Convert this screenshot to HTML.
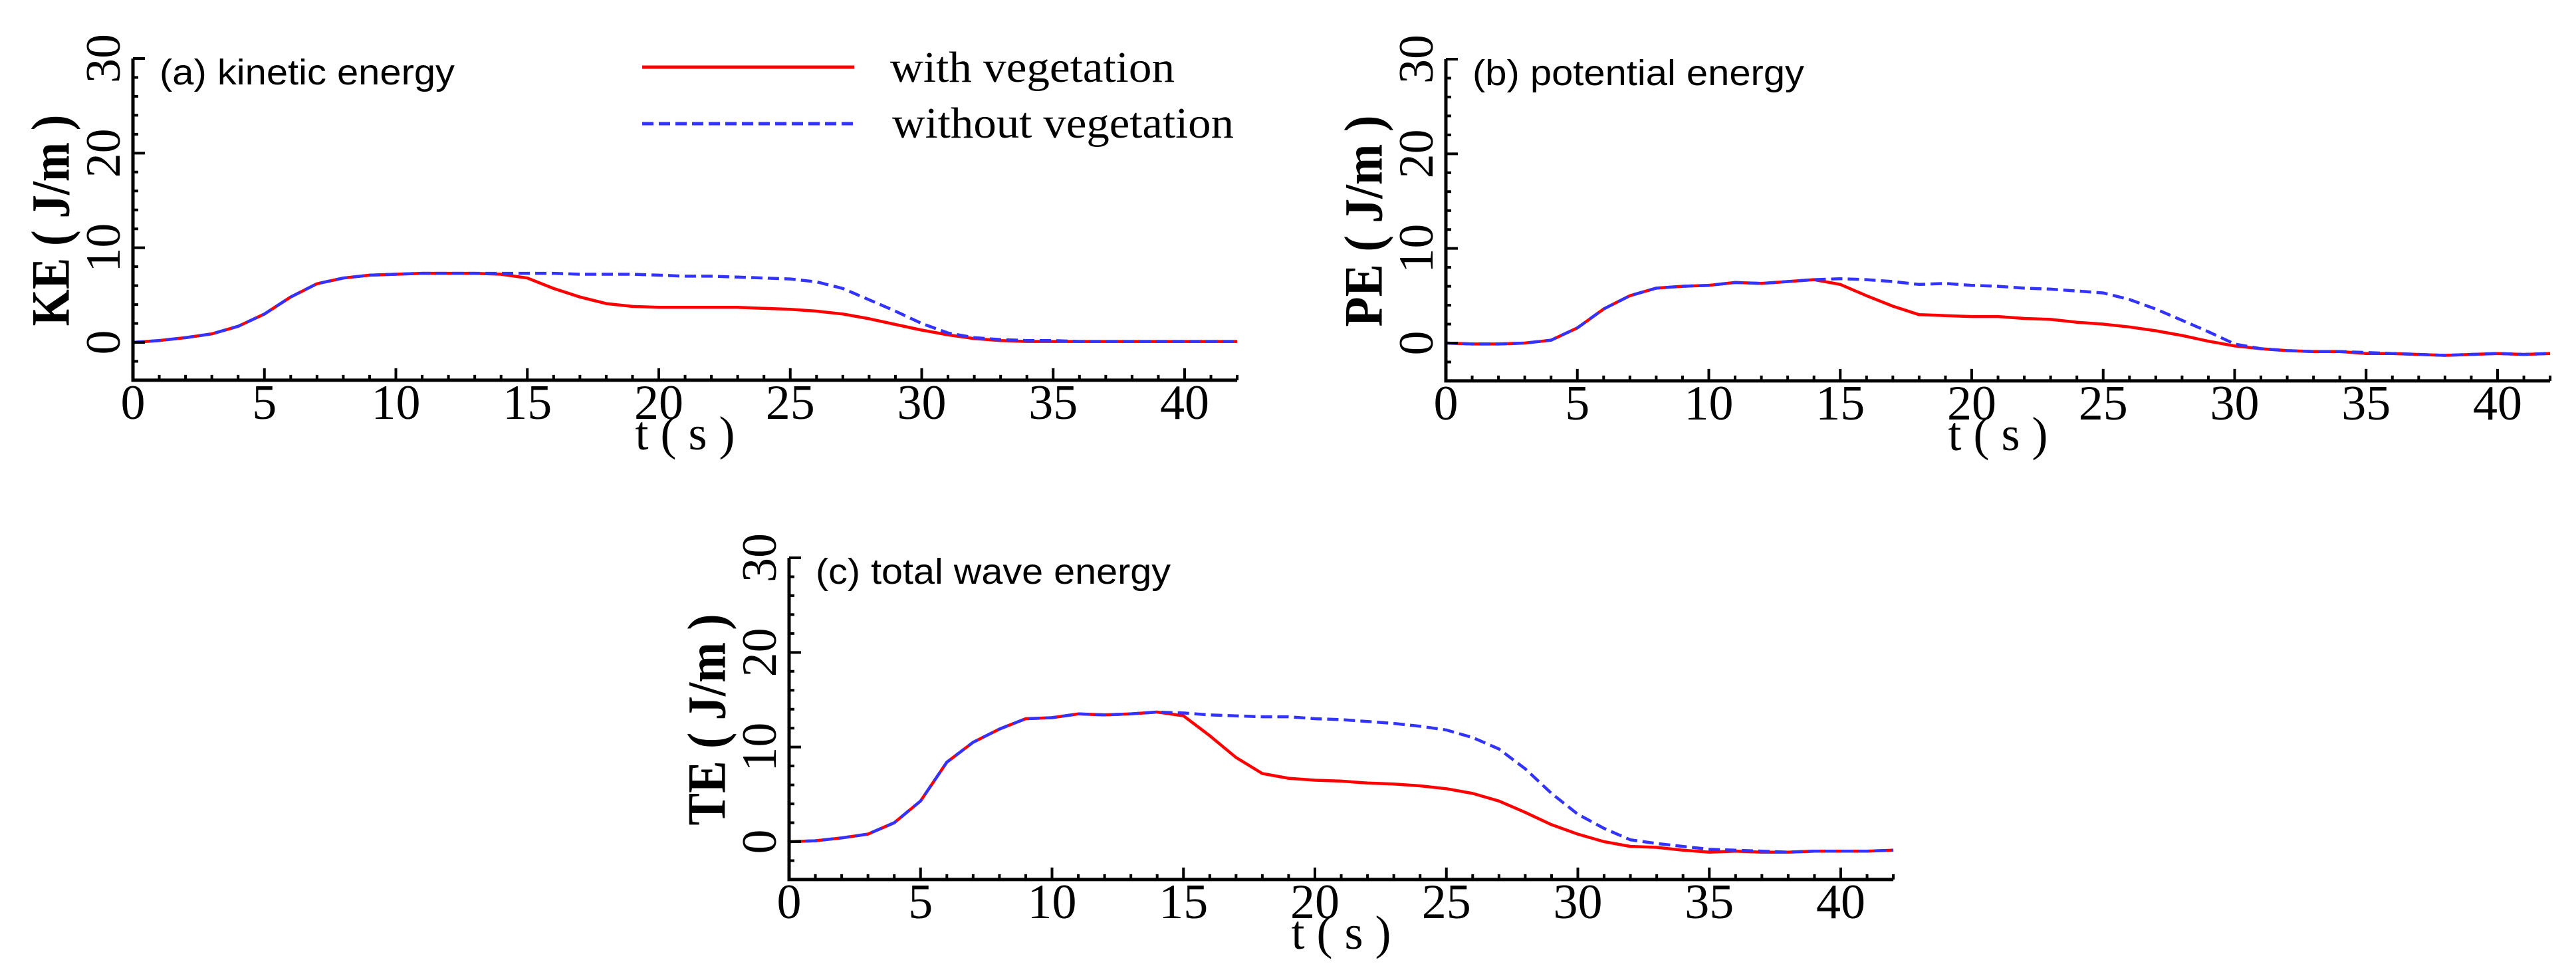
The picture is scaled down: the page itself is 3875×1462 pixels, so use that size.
<!DOCTYPE html>
<html><head><meta charset="utf-8"><style>
html,body{margin:0;padding:0;background:#fff;}
svg{display:block;}
</style></head><body>
<svg id="fig" width="3875" height="1462" viewBox="0 0 3875 1462" xmlns="http://www.w3.org/2000/svg">
<rect width="3875" height="1462" fill="#fff"/>
<g>
  <line x1="966" y1="101" x2="1285" y2="101" stroke="#ff0000" stroke-width="5"/>
  <text x="1339" y="123" font-family="Liberation Serif, serif" font-size="66" textLength="428" lengthAdjust="spacingAndGlyphs">with vegetation</text>
  <line x1="966" y1="186" x2="1285" y2="186" stroke="#3333ff" stroke-width="5" stroke-dasharray="17,8"/>
  <text x="1342" y="207" font-family="Liberation Serif, serif" font-size="66" textLength="514" lengthAdjust="spacingAndGlyphs">without vegetation</text>
</g>
</svg>
<script>
const tVals = [0,1,2,3,4,5,6,7,8,9,10,11,12,13,14,15,16,17,18,19,20,21,22,23,24,25,26,27,28,29,30,31,32,33,34,35,36,37,38,39,40,41,42];
const keWith = [0,0.2,0.5,0.9,1.7,3.0,4.8,6.2,6.8,7.1,7.2,7.3,7.3,7.3,7.2,6.8,5.7,4.8,4.1,3.8,3.7,3.7,3.7,3.7,3.6,3.5,3.3,3.0,2.5,1.9,1.3,0.8,0.4,0.2,0.1,0.1,0.1,0.1,0.1,0.1,0.1,0.1,0.1];
const keWithout = [0,0.2,0.5,0.9,1.7,3.0,4.8,6.2,6.8,7.1,7.2,7.3,7.3,7.3,7.3,7.3,7.3,7.2,7.2,7.2,7.1,7.0,7.0,6.9,6.8,6.7,6.4,5.7,4.5,3.3,2.0,1.0,0.5,0.3,0.2,0.2,0.1,0.1,0.1,0.1,0.1,0.1,0.1];
const peWith = [0,-0.1,-0.1,0,0.3,1.6,3.6,5.0,5.8,6.0,6.1,6.4,6.3,6.5,6.7,6.2,5.0,3.9,3.0,2.9,2.8,2.8,2.6,2.5,2.2,2.0,1.7,1.3,0.8,0.2,-0.3,-0.6,-0.8,-0.9,-0.9,-1.1,-1.1,-1.2,-1.3,-1.2,-1.1,-1.2,-1.1];
const peWithout = [0,-0.1,-0.1,0,0.3,1.6,3.6,5.0,5.8,6.0,6.1,6.4,6.3,6.5,6.7,6.8,6.7,6.5,6.2,6.3,6.1,6.0,5.8,5.7,5.5,5.3,4.6,3.6,2.4,1.2,-0.1,-0.6,-0.8,-0.9,-0.9,-1.0,-1.1,-1.2,-1.3,-1.2,-1.1,-1.2,-1.1];
const teWith = [0,0.1,0.4,0.8,2.0,4.3,8.4,10.5,11.9,13.0,13.1,13.5,13.4,13.5,13.7,13.3,11.2,8.9,7.2,6.7,6.5,6.4,6.2,6.1,5.9,5.6,5.1,4.3,3.1,1.8,0.8,0.0,-0.5,-0.6,-0.9,-1.1,-1.0,-1.1,-1.1,-1.0,-1.0,-1.0,-0.9];
const teWithout = [0,0.1,0.4,0.8,2.0,4.3,8.4,10.5,11.9,13.0,13.1,13.5,13.4,13.5,13.7,13.6,13.4,13.3,13.2,13.2,13.0,12.9,12.7,12.5,12.2,11.8,11.0,9.8,7.7,5.1,2.9,1.4,0.2,-0.2,-0.5,-0.8,-0.9,-1.0,-1.1,-1.0,-1.0,-1.0,-0.9];
const xTicks = [0,5,10,15,20,25,30,35,40];
const yTicks = [0,10,20,30];

const NS = 'http://www.w3.org/2000/svg';
const svg = document.getElementById('fig');
function mk(tag, attrs, parent, txt){
  const e = document.createElementNS(NS, tag);
  for (const k in attrs) e.setAttribute(k, attrs[k]);
  if (txt !== undefined) e.textContent = txt;
  parent.appendChild(e);
  return e;
}
const panels = [
  {id:'a', x0:200, y0:515, yTop:88, label:'(a) kinetic energy', lw:444, title:'KE ( J/m )', w:keWith, wo:keWithout},
  {id:'b', x0:2175, y0:516, yTop:89, label:'(b) potential energy', lw:499, title:'PE ( J/m )', w:peWith, wo:peWithout},
  {id:'c', x0:1187, y0:1266, yTop:839, label:'(c) total wave energy', lw:534, title:'TE ( J/m )', w:teWith, wo:teWithout}
];
const pxPerT = 39.55;
panels.forEach(p => {
  const ppu = (p.y0 - p.yTop) / 30;
  const xs = v => p.x0 + v * pxPerT;
  const ys = v => p.y0 - v * ppu;
  const yBot = ys(-4);
  const xEnd = xs(42);
  const g = mk('g', {}, svg);
  
  
  const mkPath = arr => tVals.map((t,i)=>(i?'L':'M')+xs(t).toFixed(1)+','+ys(arr[i]).toFixed(1)).join(' ');
  const pr = mk('path', {d:mkPath(p.w), fill:'none', stroke:'#ff0000', 'stroke-width':4.5, 'stroke-linejoin':'round'}, g);
  
  
  const pb = mk('path', {d:mkPath(p.wo), fill:'none', stroke:'#3333ff', 'stroke-width':4.5, 'stroke-dasharray':'17,8', 'stroke-linejoin':'round'}, g);
  
  
  const ax = mk('path', {d:`M${p.x0},${ys(30)} L${p.x0},${yBot} L${xEnd},${yBot}`, fill:'none', stroke:'#000', 'stroke-width':5}, g);
  
  
  let tk = '';
  for (let t=0; t<=42; t++){ const L = (t%5===0)?18:8; tk += `M${xs(t)},${yBot} L${xs(t)},${yBot-L} `; }
  for (let v=-4; v<=30; v+=2){ const L = (v%10===0)?18:8; tk += `M${p.x0},${ys(v)} L${p.x0+L},${ys(v)} `; }
  const tp = mk('path', {d:tk, stroke:'#000', 'stroke-width':4, fill:'none'}, g);
  
  
  xTicks.forEach(v => {
    const t = mk('text', {x:xs(v), y:yBot+58, 'font-family':'Liberation Serif, serif', 'font-size':74, 'text-anchor':'middle'}, g, String(v));
    
    
  });
  yTicks.forEach(v => {
    const cx = p.x0 - 44, cy = ys(v);
    const t = mk('text', {x:cx, y:cy, 'font-family':'Liberation Serif, serif', 'font-size':74, 'text-anchor':'middle', 'dominant-baseline':'central', transform:`rotate(-90 ${cx} ${cy})`}, g, String(v));
    
    
  });
  const xt = mk('text', {x:xs(21), y:yBot+104, 'font-family':'Liberation Serif, serif', 'font-size':72, 'text-anchor':'middle', 'xml:space':'preserve'}, g, 't ( s )');
  
  
  const tx = p.x0 - 124, ty = (p.y0 + p.yTop)/2 + 30;
  const yt = mk('text', {x:tx, y:ty, 'font-family':'Liberation Serif, serif', 'font-weight':'bold', 'font-size':82, 'text-anchor':'middle', 'dominant-baseline':'central', textLength:318, lengthAdjust:'spacingAndGlyphs', transform:`rotate(-90 ${tx} ${ty})`}, g, p.title);
  
  
  const pl = mk('text', {x:p.x0+40, y:p.yTop+39, 'font-family':'Liberation Sans, sans-serif', 'font-size':54, textLength:p.lw, lengthAdjust:'spacingAndGlyphs'}, g, p.label);
  
  
});
</script>
</body></html>
